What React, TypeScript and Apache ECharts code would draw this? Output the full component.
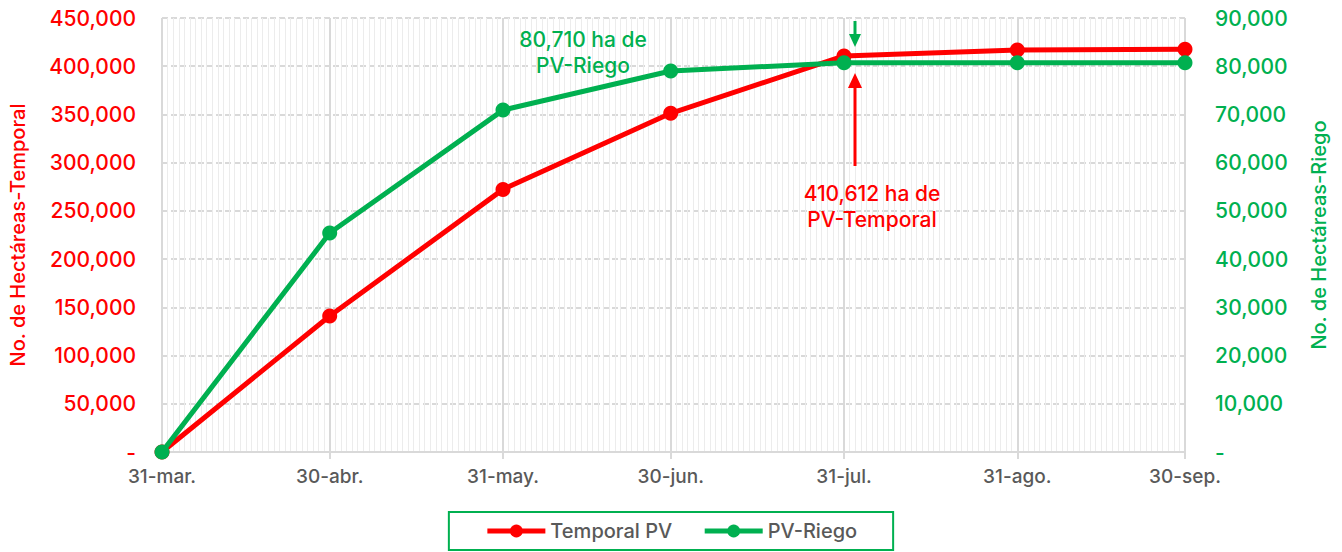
import React, { useEffect, useRef } from "react";
import * as echarts from "echarts";

// ---- data ----
const dates = ["31-mar.", "30-abr.", "31-may.", "30-jun.", "31-jul.", "31-ago.", "30-sep."];
const temporal = [0, 141000, 272300, 351200, 410612, 416800, 417500];
const riego = [0, 45400, 70900, 79000, 80710, 80710, 80710];
const leftTicks = [0, 50000, 100000, 150000, 200000, 250000, 300000, 350000, 400000, 450000];
const rightTicks = [0, 10000, 20000, 30000, 40000, 50000, 60000, 70000, 80000, 90000];
const seriesNames = ["Temporal PV", "PV-Riego"];
const noteRiego = "80,710 ha de\nPV-Riego";
const noteTemporal = "410,612 ha de\nPV-Temporal";

const RED = "#ff0000";
const GREEN = "#00b050";
const GRAY = "#595959";
const FONT = "Inter, 'DejaVu Sans', sans-serif";

// daily category labels for the x axis (31-mar → 30-sep)
const MONTHS = ["ene", "feb", "mar", "abr", "may", "jun", "jul", "ago", "sep", "oct", "nov", "dic"];
function buildDays(): string[] {
  const out: string[] = [];
  const d = new Date(2023, 2, 31);
  const end = new Date(2023, 8, 30);
  while (d <= end) {
    out.push(`${d.getDate()}-${MONTHS[d.getMonth()]}.`);
    d.setDate(d.getDate() + 1);
  }
  return out;
}
const days = buildDays();
const major = new Set(dates);
const isMajor = (_i: number, v: string) => major.has(v);
const fmt = (v: number) => (v === 0 ? "-" : v.toLocaleString("en-US"));

export default function App() {
  const ref = useRef<HTMLDivElement>(null);
  useEffect(() => {
    if (!ref.current) return;
    const chart = echarts.init(ref.current, undefined, { renderer: "svg" });
    chart.setOption({
      animation: false,
      textStyle: { fontFamily: FONT },
      grid: { left: 162, right: 157, top: 18, bottom: 100 },
      legend: {
        bottom: 2,
        left: "center",
        data: seriesNames,
        borderColor: GREEN,
        borderWidth: 2,
        padding: [9, 36],
        itemGap: 30,
        itemWidth: 58,
        itemHeight: 16,
        lineStyle: { width: 5 },
        textStyle: { color: GRAY, fontSize: 20, fontWeight: 500, fontFamily: FONT },
      },
      xAxis: [
        {
          type: "category",
          data: days,
          boundaryGap: false,
          axisLine: { show: false },
          axisTick: { show: false },
          axisLabel: { show: false },
          splitLine: { show: true, interval: 0, lineStyle: { color: "#ececec", width: 1 } },
        },
        {
          type: "category",
          data: days,
          boundaryGap: false,
          position: "bottom",
          axisLine: { show: true, lineStyle: { color: "#d9d9d9", width: 2 } },
          axisTick: { show: true, interval: isMajor, length: 7, lineStyle: { color: "#d9d9d9", width: 2 } },
          axisLabel: { show: true, interval: isMajor, color: GRAY, fontSize: 19, fontWeight: 500, margin: 15, fontFamily: FONT },
          splitLine: { show: true, interval: isMajor, lineStyle: { color: "#d9d9d9", width: 2 } },
        },
      ],
      yAxis: [
        {
          type: "value",
          min: leftTicks[0],
          max: leftTicks[leftTicks.length - 1],
          interval: leftTicks[1] - leftTicks[0],
          name: "No. de Hectáreas-Temporal",
          nameLocation: "middle",
          nameGap: 134,
          nameTextStyle: { color: RED, fontSize: 20, fontWeight: 500, fontFamily: FONT },
          axisLine: { show: false },
          axisTick: { show: false },
          axisLabel: { color: RED, fontSize: 21, fontWeight: 500, margin: 26, formatter: fmt, fontFamily: FONT },
          splitLine: { show: true, lineStyle: { color: "#d9d9d9", width: 2, type: [6, 3] } },
        },
        {
          type: "value",
          position: "right",
          min: rightTicks[0],
          max: rightTicks[rightTicks.length - 1],
          interval: rightTicks[1] - rightTicks[0],
          name: "No. de Hectáreas-Riego",
          nameLocation: "middle",
          nameGap: 124,
          nameTextStyle: { color: GREEN, fontSize: 20, fontWeight: 500, fontFamily: FONT },
          axisLine: { show: false },
          axisTick: { show: false },
          axisLabel: { color: GREEN, fontSize: 21, fontWeight: 500, margin: 30, formatter: fmt, fontFamily: FONT },
          splitLine: { show: false },
        },
      ],
      series: [
        {
          name: seriesNames[0],
          type: "line",
          xAxisIndex: 1,
          yAxisIndex: 0,
          data: dates.map((d, i) => [d, temporal[i]]),
          symbol: "circle",
          symbolSize: 15,
          lineStyle: { color: RED, width: 5 },
          itemStyle: { color: RED },
          z: 3,
        },
        {
          name: seriesNames[1],
          type: "line",
          xAxisIndex: 1,
          yAxisIndex: 1,
          data: dates.map((d, i) => [d, riego[i]]),
          symbol: "circle",
          symbolSize: 15,
          lineStyle: { color: GREEN, width: 5 },
          itemStyle: { color: GREEN },
          z: 4,
        },
      ],
      graphic: [
        {
          type: "text",
          x: 583,
          y: 26,
          style: {
            text: noteRiego,
            fill: GREEN,
            font: `500 21px ${FONT}`,
            align: "center",
            lineHeight: 26,
          },
          z: 10,
        },
        {
          type: "text",
          x: 872,
          y: 180,
          style: {
            text: noteTemporal,
            fill: RED,
            font: `500 21px ${FONT}`,
            align: "center",
            lineHeight: 26,
          },
          z: 10,
        },
        { type: "line", shape: { x1: 855, y1: 21, x2: 855, y2: 36 }, style: { stroke: GREEN, lineWidth: 3 }, z: 10 },
        { type: "polygon", shape: { points: [[849, 34], [861, 34], [855, 47]] }, style: { fill: GREEN }, z: 10 },
        { type: "line", shape: { x1: 855, y1: 166, x2: 855, y2: 86 }, style: { stroke: RED, lineWidth: 3 }, z: 10 },
        { type: "polygon", shape: { points: [[848, 88], [862, 88], [855, 73]] }, style: { fill: RED }, z: 10 },
      ],
    });
    return () => chart.dispose();
  }, []);
  return <div ref={ref} style={{ position: "absolute", left: 0, top: 0, width: 1342, height: 552 }} />;
}
